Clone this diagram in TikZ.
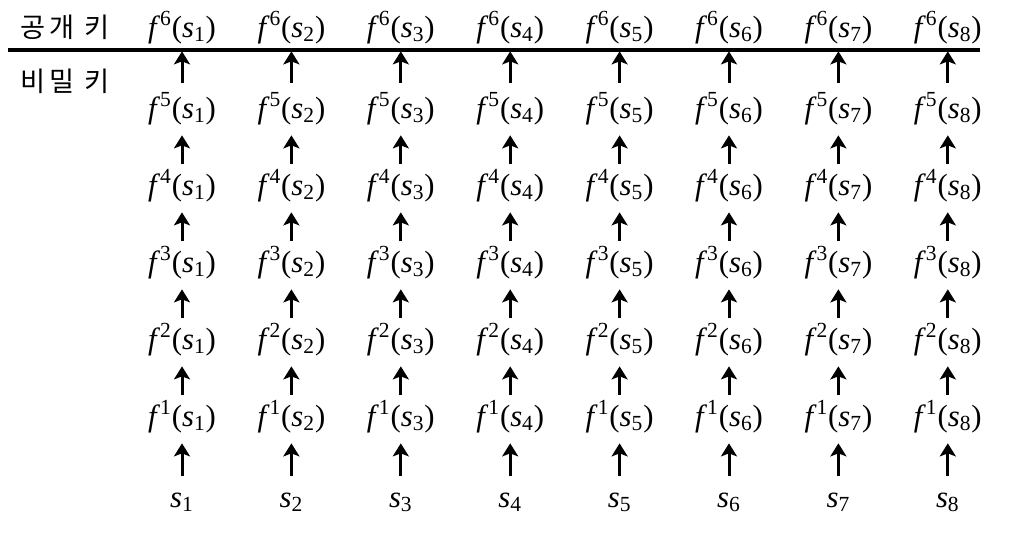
\documentclass[tikz,border=0pt]{standalone}
\usepackage{fontspec}
\setmainfont{Liberation Serif}
\newfontfamily\tmfont{Liberation Serif}
\newfontfamily\kofont[LetterSpace=15]{Noto Sans CJK KR}
\usepackage{tikz}
\usetikzlibrary{arrows.meta}

\newcommand{\fkey}[2]{\textit{f}\/\textsuperscript{#1}(\textit{s}\textsubscript{#2})}

\begin{document}
\begin{tikzpicture}[x=0.02cm, y=-0.02cm,
    every node/.style={font=\tmfont\fontsize{17.5}{20}\selectfont},
    key/.style={anchor=base, inner sep=0pt, text height=0.42cm, text depth=0.14cm},
    side/.style={anchor=base west, inner sep=0pt, font=\kofont\fontsize{15.5}{18}\selectfont},
    up/.style={line width=0.06cm, -{Stealth[length=0.26cm, width=0.32cm, inset=0.06cm]},
               shorten <=0.19cm, shorten >=0.2cm},
    rule/.style={line width=0.065cm}]
    \useasboundingbox (0,0) rectangle (1010,555);
    \node[side] (pub) at (20,37) {공개 키};
    \node[side] (sec) at (20,91) {비밀 키};
    \coordinate (ruleL) at (8,50);
    \coordinate (ruleR) at (980,50);
    \draw[rule] (ruleL) -- (ruleR);
    \foreach \i in {1,...,8} {
        \node[key] (s\i) at ({182+109.4*(\i-1)},507) {\textit{s}\textsubscript{\i}};
        \foreach \k in {1,...,5} {
            \node[key] (f\k-\i) at ({182+109.4*(\i-1)},{426-77*(\k-1)}) {\fkey{\k}{\i}};
        }
        \node[key] (f6-\i) at ({182+109.4*(\i-1)},37) {\fkey{6}{\i}};
        \draw[up] (s\i.north) -- (f1-\i.south);
        \foreach \k in {2,...,5} {
            \pgfmathtruncatemacro{\p}{\k-1}
            \draw[up] (f\p-\i.north) -- (f\k-\i.south);
        }
        \draw[up, shorten <=0.28cm, shorten >=0.14cm] (f5-\i.north) -- (f6-\i.south);
    }
\end{tikzpicture}
\end{document}
